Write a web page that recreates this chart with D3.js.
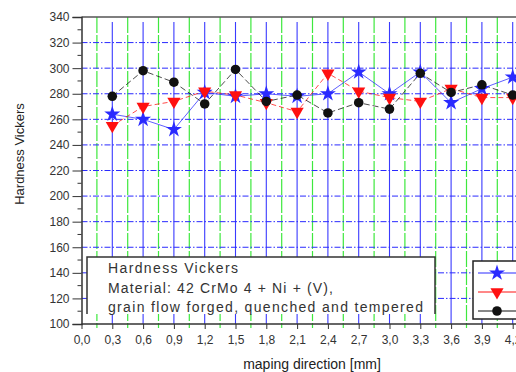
<!DOCTYPE html>
<html><head><meta charset="utf-8">
<script src="https://cdn.jsdelivr.net/npm/d3@7"></script>
<style>
html,body{margin:0;padding:0;background:#fff;overflow:hidden;}
svg{display:block;font-family:"Liberation Sans",Arial,sans-serif;}
</style></head>
<body>
<svg id="c" width="516" height="372"></svg>
<script>
const positions = [0.3,0.6,0.9,1.2,1.5,1.8,2.1,2.4,2.7,3.0,3.3,3.6,3.9,4.2];
const seriesBlue  = [264,260,252,281,278,280,278,280,297,280,297,273,284,293];
const seriesRed   = [255,270,274,282,279,273,266,296,282,277,274,284,277,277];
const seriesBlack = [278,298,289,272,299,274,279,265,273,268,296,281,287,279];
const xTicks = [0,0.3,0.6,0.9,1.2,1.5,1.8,2.1,2.4,2.7,3.0,3.3,3.6,3.9,4.2];
const yTicks = [100,120,140,160,180,200,220,240,260,280,300,320,340];
const boxLines = ["Hardness Vickers","Material: 42 CrMo 4 + Ni + (V),","grain flow forged, quenched and tempered"];

const svg = d3.select("#c");
const x = d3.scaleLinear().domain([0,4.5]).range([81.5,81.5+15*30.8]);
const y = d3.scaleLinear().domain([100,340]).range([324,17]);
const xR = 516;

// vertical grid
const blueX = d3.range(1,16).map(i=>+(i*0.3).toFixed(2));
const greenX = d3.range(0,15).map(i=>+(0.15+i*0.3).toFixed(2));
svg.append("g").selectAll("line").data(greenX).join("line")
  .attr("x1",d=>x(d)).attr("x2",d=>x(d)).attr("y1",y(340)).attr("y2",y(100)+4)
  .attr("stroke","#3ee83e").attr("stroke-width",1.2).attr("stroke-dasharray","16,2");
svg.append("g").selectAll("line").data(blueX).join("line")
  .attr("x1",d=>x(d)).attr("x2",d=>x(d)).attr("y1",y(340)+5).attr("y2",y(100))
  .attr("stroke","#3a3aff").attr("stroke-width",1.1);
// horizontal grid
svg.append("g").selectAll("line").data(yTicks.filter(v=>v>100&&v<340)).join("line")
  .attr("x1",x(0)).attr("x2",xR).attr("y1",d=>y(d)).attr("y2",d=>y(d))
  .attr("stroke","#2a2aff").attr("stroke-width",1).attr("stroke-dasharray","6,2,1.5,2");

// top border
svg.append("line").attr("x1",x(0)).attr("x2",xR).attr("y1",y(340)).attr("y2",y(340))
  .attr("stroke","#555").attr("stroke-width",1.5);

// axes
const yAxis = d3.axisLeft(y).tickValues(yTicks).tickSize(9).tickPadding(3);
const gy = svg.append("g").attr("transform",`translate(${x(0)},0)`).call(yAxis);
gy.select(".domain").attr("stroke","#333").attr("stroke-width",1.5);
gy.selectAll(".tick line").attr("stroke","#333");
gy.selectAll(".tick text").attr("font-size",12).attr("fill","#333")
  .attr("font-family","Liberation Sans, Arial, sans-serif");
const minor = d3.range(110,340,20);
svg.append("g").selectAll("line").data(minor).join("line")
  .attr("x1",x(0)-4).attr("x2",x(0)).attr("y1",d=>y(d)).attr("y2",d=>y(d)).attr("stroke","#333");

const xAxis = d3.axisBottom(x).tickValues(xTicks).tickSize(5).tickPadding(6)
  .tickFormat(d=>d3.format(".1f")(d).replace(".",","));
const gx = svg.append("g").attr("transform",`translate(0,${y(100)})`).call(xAxis);
gx.select(".domain").attr("d",`M${x(0)},0H${xR}`).attr("stroke","#333").attr("stroke-width",1.5);
gx.selectAll(".tick line").attr("stroke","#333");
gx.selectAll(".tick text").attr("font-size",12).attr("fill","#333")
  .attr("font-family","Liberation Sans, Arial, sans-serif");

// axis titles
svg.append("text").attr("x",312).attr("y",369).attr("text-anchor","middle")
  .attr("font-size",14).attr("fill","#222").text("maping direction [mm]");
svg.append("text").attr("transform","translate(24,154) rotate(-90)").attr("text-anchor","middle")
  .attr("font-size",13).attr("fill","#222").text("Hardness Vickers");

// series
const series = [
  {vals:seriesBlue, color:"#2a2aff", dash:null, sym:d3.symbolStar, size:80},
  {vals:seriesRed, color:"#ff1010", dash:"5,3", sym:d3.symbolTriangle, size:75, rot:180},
  {vals:seriesBlack, color:"#111", dash:"6,3", sym:d3.symbolCircle, size:72}
];
const line = d3.line().x((d,i)=>x(positions[i])).y(d=>y(d));
series.forEach(s=>{
  svg.append("path").datum(s.vals).attr("d",line).attr("fill","none")
    .attr("stroke",s.color).attr("stroke-width",1).attr("opacity",0.75)
    .attr("stroke-dasharray",s.dash);
});
series.forEach(s=>{
  svg.append("g").selectAll("path").data(s.vals).join("path")
    .attr("d",d3.symbol().type(s.sym).size(s.size))
    .attr("transform",(d,i)=>`translate(${x(positions[i])},${y(d)})${s.rot?` rotate(${s.rot})`:""}`)
    .attr("fill",s.color);
});

// text box
const bx0=87, bx1=435, by0=257, by1=314;
svg.append("rect").attr("x",bx0).attr("y",by0).attr("width",bx1-bx0).attr("height",by1-by0).attr("fill","#fff");
svg.append("path").attr("d",`M${bx0},${by1}V${by0}H${bx1}V${by1}`).attr("fill","none")
  .attr("stroke","#333").attr("stroke-width",1.5);
const widths=[130,225,315];
boxLines.forEach((t,i)=>{
  svg.append("text").attr("x",108).attr("y",273+i*19.5).attr("font-size",14).attr("fill","#333")
    .attr("textLength",widths[i]).attr("lengthAdjust","spacing").text(t);
});

// legend
const lx=473, ly=261;
svg.append("rect").attr("x",lx).attr("y",ly).attr("width",80).attr("height",58)
  .attr("fill","#fff").attr("stroke","#222").attr("stroke-width",1.5);
series.forEach((s,i)=>{
  const yy = 273+i*19;
  svg.append("line").attr("x1",478).attr("x2",520).attr("y1",yy).attr("y2",yy)
    .attr("stroke",s.color).attr("stroke-width",1);
  svg.append("path").attr("d",d3.symbol().type(s.sym).size(s.size)())
    .attr("transform",`translate(497,${yy})${s.rot?` rotate(${s.rot})`:""}`).attr("fill",s.color);
});
</script>
</body></html>
